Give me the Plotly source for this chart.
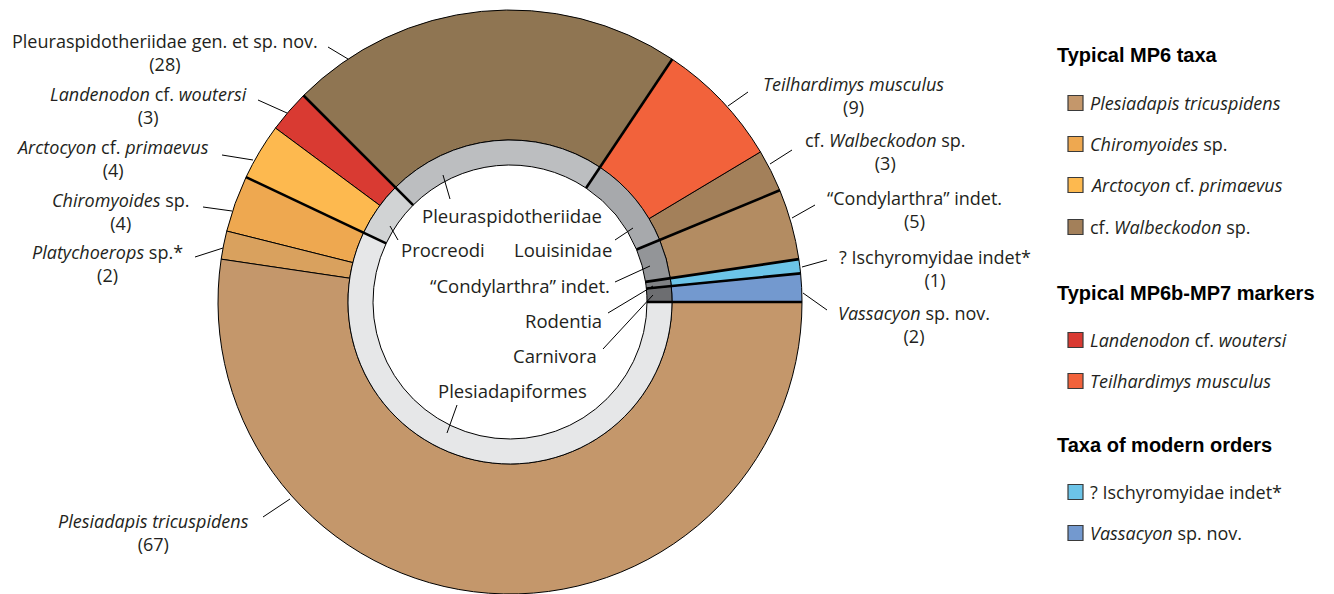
import math
import plotly.graph_objects as go

# ---------------- data ----------------
species = [
    "Vassacyon sp. nov.", "? Ischyromyidae indet*", "“Condylarthra” indet.",
    "cf. Walbeckodon sp.", "Teilhardimys musculus",
    "Pleuraspidotheriidae gen. et sp. nov.", "Landenodon cf. woutersi",
    "Arctocyon cf. primaevus", "Chiromyoides sp.", "Platychoerops sp.*",
    "Plesiadapis tricuspidens",
]
species_html = [
    "<i>Vassacyon</i> sp. nov.", "? Ischyromyidae indet*", "“Condylarthra” indet.",
    "cf. <i>Walbeckodon</i> sp.", "<i>Teilhardimys musculus</i>",
    "Pleuraspidotheriidae gen. et sp. nov.", "<i>Landenodon</i> cf. <i>woutersi</i>",
    "<i>Arctocyon</i> cf. <i>primaevus</i>", "<i>Chiromyoides</i> sp.", "<i>Platychoerops</i> sp.*",
    "<i>Plesiadapis tricuspidens</i>",
]
species_counts = [2, 1, 5, 3, 9, 28, 3, 4, 4, 2, 67]
species_group = [
    "Carnivora", "Rodentia", "“Condylarthra” indet.", "Louisinidae", "Louisinidae",
    "Pleuraspidotheriidae", "Procreodi", "Procreodi", "Plesiadapiformes",
    "Plesiadapiformes", "Plesiadapiformes",
]
species_colors = [
    "#7399cf", "#6cc4e8", "#b38c62", "#a3805a", "#f2623b", "#8f7552",
    "#d93a32", "#fdb94f", "#eea850", "#d9a15e", "#c4976b",
]

groups = ["Carnivora", "Rodentia", "“Condylarthra” indet.", "Louisinidae",
          "Pleuraspidotheriidae", "Procreodi", "Plesiadapiformes"]
group_colors = ["#6d6e71", "#808285", "#939598", "#a7a9ac", "#bcbec0", "#d1d3d4", "#e6e7e8"]
group_counts = [sum(c for c, g in zip(species_counts, species_group) if g == grp) for grp in groups]

legend_sections = [
    ("Typical MP6 taxa", ["Plesiadapis tricuspidens", "Chiromyoides sp.",
                          "Arctocyon cf. primaevus", "cf. Walbeckodon sp."]),
    ("Typical MP6b-MP7 markers", ["Landenodon cf. woutersi", "Teilhardimys musculus"]),
    ("Taxa of modern orders", ["? Ischyromyidae indet*", "Vassacyon sp. nov."]),
]

# ---------------- layout geometry (pixels) ----------------
W, H = 1334, 594
CX, CY = 510, 302
R_OUT, R_MID, R_IN = 292, 162, 137
FONT = "Open Sans"
TXT = "#231f20"
total = sum(species_counts)


def px(x, y):
    return x / W, 1 - y / H


def dom(r):
    return dict(x=[(CX - r) / W, (CX + r) / W], y=[1 - (CY + r) / H, 1 - (CY - r) / H])


# plotly puts the first counterclockwise slice clockwise of `rotation`; shift it so
# the first slice starts at 3 o'clock and runs upwards
rot_outer = 90 - species_counts[0] / total * 360
rot_inner = 90 - group_counts[0] / total * 360

fig = go.Figure()
fig.add_trace(go.Pie(
    labels=species, values=species_counts, sort=False, direction="counterclockwise",
    rotation=rot_outer, hole=R_MID / R_OUT, domain=dom(R_OUT), textinfo="none",
    marker=dict(colors=species_colors, line=dict(color="black", width=1)),
    showlegend=False, hoverinfo="label+value",
))
fig.add_trace(go.Pie(
    labels=groups, values=group_counts, sort=False, direction="counterclockwise",
    rotation=rot_inner, hole=R_IN / R_MID, domain=dom(R_MID), textinfo="none",
    marker=dict(colors=group_colors, line=dict(color="black", width=1)),
    showlegend=False, hoverinfo="label+value",
))

shapes = []
annotations = []

# thick boundaries between groups
cum = 0
for gc in [0] + group_counts[:-1]:
    cum += gc
    a = math.radians(cum / total * 360)
    x0, y0 = px(CX + R_IN * math.cos(a), CY - R_IN * math.sin(a))
    x1, y1 = px(CX + R_OUT * math.cos(a), CY - R_OUT * math.sin(a))
    shapes.append(dict(type="line", xref="paper", yref="paper", x0=x0, y0=y0, x1=x1, y1=y1,
                       line=dict(color="black", width=2.6), layer="above"))

# outer labels: block centre (x, y), leader start, leader end
outer_pos = {
    "Vassacyon sp. nov.": (914, 324, (827, 310), (803, 293)),
    "? Ischyromyidae indet*": (935, 268.5, (827, 260), (802, 267)),
    "“Condylarthra” indet.": (914, 209, (815, 205), (792, 218)),
    "cf. Walbeckodon sp.": (885, 151, (792, 150), (770, 164)),
    "Teilhardimys musculus": (853, 95, (748, 92), (728, 106)),
    "Pleuraspidotheriidae gen. et sp. nov.": (165, 53, (328, 47), (348, 59)),
    "Landenodon cf. woutersi": (148, 106, (258, 100), (287, 113)),
    "Arctocyon cf. primaevus": (112, 158.5, (222, 155), (253, 160)),
    "Chiromyoides sp.": (121, 211.5, (203, 207), (232, 211)),
    "Platychoerops sp.*": (108, 263.5, (195, 257), (223, 248)),
    "Plesiadapis tricuspidens": (153, 532.5, (263, 517), (290, 499)),
}
for name, html, cnt in zip(species, species_html, species_counts):
    tx, ty, p0, p1 = outer_pos[name]
    x, y = px(tx, ty)
    annotations.append(dict(x=x, y=y, xref="paper", yref="paper", text=f"{html}<br>({cnt})",
                            showarrow=False, xanchor="center", yanchor="middle", align="center",
                            font=dict(family=FONT, size=18, color=TXT)))
    x0, y0 = px(*p0)
    x1, y1 = px(*p1)
    shapes.append(dict(type="line", xref="paper", yref="paper", x0=x0, y0=y0, x1=x1, y1=y1,
                       line=dict(color="black", width=1)))

# inner labels
inner_pos = {
    "Pleuraspidotheriidae": (512, 215, (443, 175), (450, 199)),
    "Procreodi": (443, 250, (390, 226), (398, 240)),
    "Louisinidae": (563, 250, (633, 228), (615, 240)),
    "“Condylarthra” indet.": (520, 286, (650, 266), (615, 282)),
    "Rodentia": (563, 320, (653, 286), (608, 313)),
    "Carnivora": (555, 355, (653, 295), (603, 349)),
    "Plesiadapiformes": (512, 390, (457, 405), (447, 433)),
}
for g in groups:
    tx, ty, p0, p1 = inner_pos[g]
    x, y = px(tx, ty)
    annotations.append(dict(x=x, y=y, xref="paper", yref="paper", text=g, showarrow=False,
                            xanchor="center", yanchor="middle",
                            font=dict(family=FONT, size=18.5, color=TXT)))
    x0, y0 = px(*p0)
    x1, y1 = px(*p1)
    shapes.append(dict(type="line", xref="paper", yref="paper", x0=x0, y0=y0, x1=x1, y1=y1,
                       line=dict(color="black", width=1), layer="above"))

# legend
header_y = [55, 293, 445]
item_y = [[103, 144, 185, 227], [340, 381], [492, 533]]
for (title, items), hy, iys in zip(legend_sections, header_y, item_y):
    x, y = px(1055, hy)
    annotations.append(dict(x=x, y=y, xref="paper", yref="paper", text=f"<b>{title}</b>",
                            showarrow=False, xanchor="left", yanchor="middle",
                            font=dict(family="Liberation Sans", size=20, color="black")))
    for it, iy in zip(items, iys):
        i = species.index(it)
        x0, y0 = px(1068, iy - 7.5)
        x1, y1 = px(1083, iy + 7.5)
        shapes.append(dict(type="rect", xref="paper", yref="paper", x0=x0, y0=y0, x1=x1, y1=y1,
                           fillcolor=species_colors[i], line=dict(color="#3a3a3a", width=1.2)))
        x, y = px(1088, iy)
        annotations.append(dict(x=x, y=y, xref="paper", yref="paper", text=species_html[i],
                                showarrow=False, xanchor="left", yanchor="middle",
                                font=dict(family=FONT, size=18, color=TXT)))

fig.update_layout(
    width=W, height=H, margin=dict(l=0, r=0, t=0, b=0),
    paper_bgcolor="white", plot_bgcolor="white",
    shapes=shapes, annotations=annotations, showlegend=False,
)
fig.write_html("out.html", config={"displayModeBar": False},
               post_script="document.body.style.margin='0';")
